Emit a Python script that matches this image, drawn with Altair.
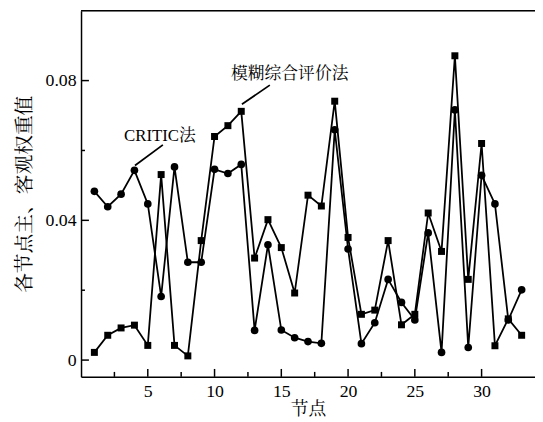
import altair as alt
import pandas as pd

nodes = list(range(1, 34))
critic = [0.0483, 0.0439, 0.0475, 0.0543, 0.0447, 0.0182, 0.0553, 0.0280, 0.0280, 0.0546,
          0.0534, 0.0560, 0.0085, 0.0330, 0.0086, 0.0064, 0.0053, 0.0048, 0.0659, 0.0318,
          0.0047, 0.0107, 0.0231, 0.0165, 0.0115, 0.0364, 0.0022, 0.0716, 0.0036, 0.0529,
          0.0447, 0.0115, 0.0201]
fuzzy = [0.0022, 0.0071, 0.0092, 0.0100, 0.0042, 0.0531, 0.0042, 0.0012, 0.0342, 0.0640,
         0.0671, 0.0712, 0.0292, 0.0402, 0.0322, 0.0192, 0.0472, 0.0441, 0.0741, 0.0351,
         0.0131, 0.0143, 0.0342, 0.0101, 0.0131, 0.0421, 0.0311, 0.0871, 0.0231, 0.0620,
         0.0041, 0.0118, 0.0071]
series_names = ["CRITIC法", "模糊综合评价法"]

x_major = [5, 10, 15, 20, 25, 30]
x_minor = [2.5, 7.5, 12.5, 17.5, 22.5, 27.5]
y_major = [0, 0.04, 0.08]
y_minor = [0.02, 0.06]

ann_text = ["CRITIC法", "模糊综合评价法"]
ann_x = [5.91, 15.63]
ann_y = [0.0641, 0.0819]
lead_x1 = [4.04, 12.05]
lead_y1 = [0.0557, 0.0732]
lead_x2 = [6.13, 14.14]
lead_y2 = [0.0616, 0.0787]

FONT = "Liberation Serif, Noto Serif CJK SC, Noto Sans CJK SC"
W, H = 460, 371

df = pd.DataFrame({
    "node": nodes * 2,
    "value": critic + fuzzy,
    "series": [series_names[0]] * len(nodes) + [series_names[1]] * len(nodes),
})

xs = alt.Scale(domain=[0, 34], nice=False, zero=False)
ys = alt.Scale(domain=[-0.0048, 0.1], nice=False, zero=False)

x_enc = alt.X("node:Q", scale=xs,
              axis=alt.Axis(values=x_major, ticks=False, grid=False, labelPadding=6,
                            title="节点", titlePadding=0, titleFontSize=18,
                            titleFontWeight="normal", labelFontSize=18, labelFont=FONT,
                            titleFont=FONT, domainColor="black", domainWidth=1.5,
                            labelColor="black", titleColor="black"))
y_enc = alt.Y("value:Q", scale=ys,
              axis=alt.Axis(values=y_major, ticks=False, grid=False, labelPadding=5,
                            labelExpr="datum.value == 0 ? '0' : format(datum.value, '.2f')",
                            title="各节点主、客观权重值", titlePadding=11, titleFontSize=20,
                            titleFontWeight="normal", labelFontSize=18, labelFont=FONT,
                            titleFont=FONT, domainColor="black", domainWidth=1.5,
                            labelColor="black", titleColor="black"))

base = alt.Chart(df)
lines = base.mark_line(color="black", strokeWidth=1.8).encode(
    x=x_enc, y=y_enc, detail="series:N")
points = base.mark_point(filled=True, color="black", opacity=1).encode(
    x=alt.X("node:Q", scale=xs),
    y=alt.Y("value:Q", scale=ys),
    shape=alt.Shape("series:N", scale=alt.Scale(domain=series_names, range=["circle", "square"]),
                    legend=None),
    size=alt.Size("series:N", scale=alt.Scale(domain=series_names, range=[60, 50]), legend=None),
)

top_border = alt.Chart(pd.DataFrame({"v": [0]})).mark_rule(color="black", strokeWidth=1.5).encode(
    x=alt.value(0), x2=alt.value(W), y=alt.value(0))

yt_major = alt.Chart(pd.DataFrame({"v": y_major})).mark_rule(color="black", strokeWidth=1.5).encode(
    y=alt.Y("v:Q", scale=ys), x=alt.value(0), x2=alt.value(8))
yt_minor = alt.Chart(pd.DataFrame({"v": y_minor})).mark_rule(color="black", strokeWidth=1.5).encode(
    y=alt.Y("v:Q", scale=ys), x=alt.value(0), x2=alt.value(4))
xt_major = alt.Chart(pd.DataFrame({"v": x_major})).mark_rule(color="black", strokeWidth=1.5).encode(
    x=alt.X("v:Q", scale=xs), y=alt.value(H), y2=alt.value(H - 8))
xt_minor = alt.Chart(pd.DataFrame({"v": x_minor})).mark_rule(color="black", strokeWidth=1.5).encode(
    x=alt.X("v:Q", scale=xs), y=alt.value(H), y2=alt.value(H - 5))

ann_df = pd.DataFrame({"t": ann_text, "x": ann_x, "y": ann_y,
                       "x1": lead_x1, "y1": lead_y1, "x2": lead_x2, "y2": lead_y2})
ann_text_layer = alt.Chart(ann_df).mark_text(font=FONT, fontSize=17, color="black",
                                             baseline="middle", align="center").encode(
    x=alt.X("x:Q", scale=xs), y=alt.Y("y:Q", scale=ys), text="t:N")
ann_lines = alt.Chart(ann_df).mark_rule(color="black", strokeWidth=1.8).encode(
    x=alt.X("x1:Q", scale=xs), y=alt.Y("y1:Q", scale=ys),
    x2="x2:Q", y2="y2:Q")

chart = alt.layer(lines, points, yt_major, yt_minor, xt_major, xt_minor,
                  ann_lines, ann_text_layer, top_border).properties(
    width=W, height=H,
    autosize=alt.AutoSizeParams(type="none"),
    padding={"left": 74, "top": 0, "right": 0, "bottom": 43},
).configure_view(stroke=None).configure(background="white")

chart.save("out.html", embed_options={"renderer": "svg", "actions": False})
